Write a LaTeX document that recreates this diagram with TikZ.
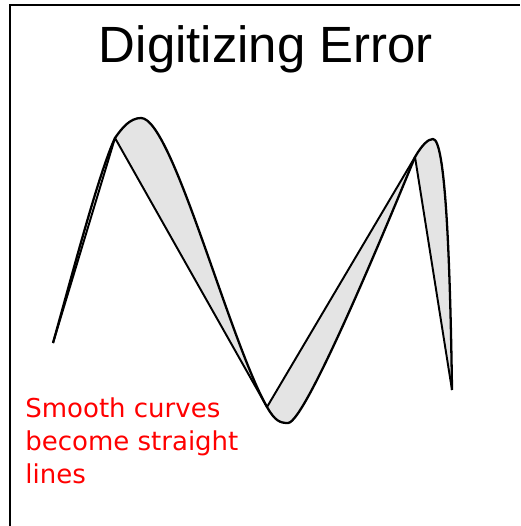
\documentclass[tikz,border=0pt]{standalone}
\usepackage{fontspec}
\setmainfont{Liberation Sans}
\newfontfamily\notefont{DejaVu Sans}
\usepackage{tikz}
\usetikzlibrary{positioning}
\definecolor{errorgray}{RGB}{228,228,228}
\definecolor{notered}{RGB}{255,0,0}
\tikzset{
  framebar/.style={line width=1.3pt, black},
  sampleline/.style={line width=1.1pt, black, line join=round},
  smoothline/.style={line width=1.3pt, black, line join=round},
  errorfill/.style={fill=errorgray, even odd rule},
  titlelabel/.style={font=\fontsize{29}{34}\selectfont, anchor=base, inner sep=0pt},
  notelabel/.style={font=\notefont\fontsize{14.8}{18.8}\selectfont, text=notered, align=left, anchor=north west, inner sep=0pt}
}
\begin{document}
\begin{tikzpicture}[x=0.02cm, y=-0.02cm]
  \useasboundingbox (0,0) rectangle (520,526);
  % frame (top and left only)
  \draw[framebar] (10,526) -- (10,5) -- (520,5);

  % sample points on the curve
  \coordinate (s0) at (53,343);
  \coordinate (s1) at (115,138);
  \coordinate (s2) at (267,407);
  \coordinate (s3) at (415,157);
  \coordinate (s4) at (452,390);
  % extremes of the smooth curve
  \coordinate (top1) at (141,118);
  \coordinate (low1) at (288,423);
  \coordinate (top2) at (433,139);

  % error area between curve and straight lines
  \fill[errorfill] (s1)
        .. controls (122,128) and (130,118) .. (top1)
        .. controls (172,118) and (229,340) .. (s2)
        .. controls (275,421) and (280,423) .. (low1)
        .. controls (305,423) and (385,230) .. (s3)
        .. controls (422,145) and (428,139) .. (top2)
        .. controls (445,139) and (450,250) .. (s4)
        -- (s3) -- (s2) -- (s1);

  % smooth curve
  \draw[smoothline] (s0) .. controls (71,279) and (99,172) .. (s1)
        .. controls (122,128) and (130,118) .. (top1)
        .. controls (172,118) and (229,340) .. (s2)
        .. controls (275,421) and (280,423) .. (low1)
        .. controls (305,423) and (385,230) .. (s3)
        .. controls (422,145) and (428,139) .. (top2)
        .. controls (445,139) and (450,250) .. (s4);

  % digitized version
  \draw[sampleline] (s0) -- (s1) -- (s2) -- (s3) -- (s4);

  % labels
  \node[titlelabel] (title) at (266,63) {Digitizing Error};
  \node[notelabel] (note) at (25,397) {Smooth curves\\become straight\\lines};
\end{tikzpicture}
\end{document}
